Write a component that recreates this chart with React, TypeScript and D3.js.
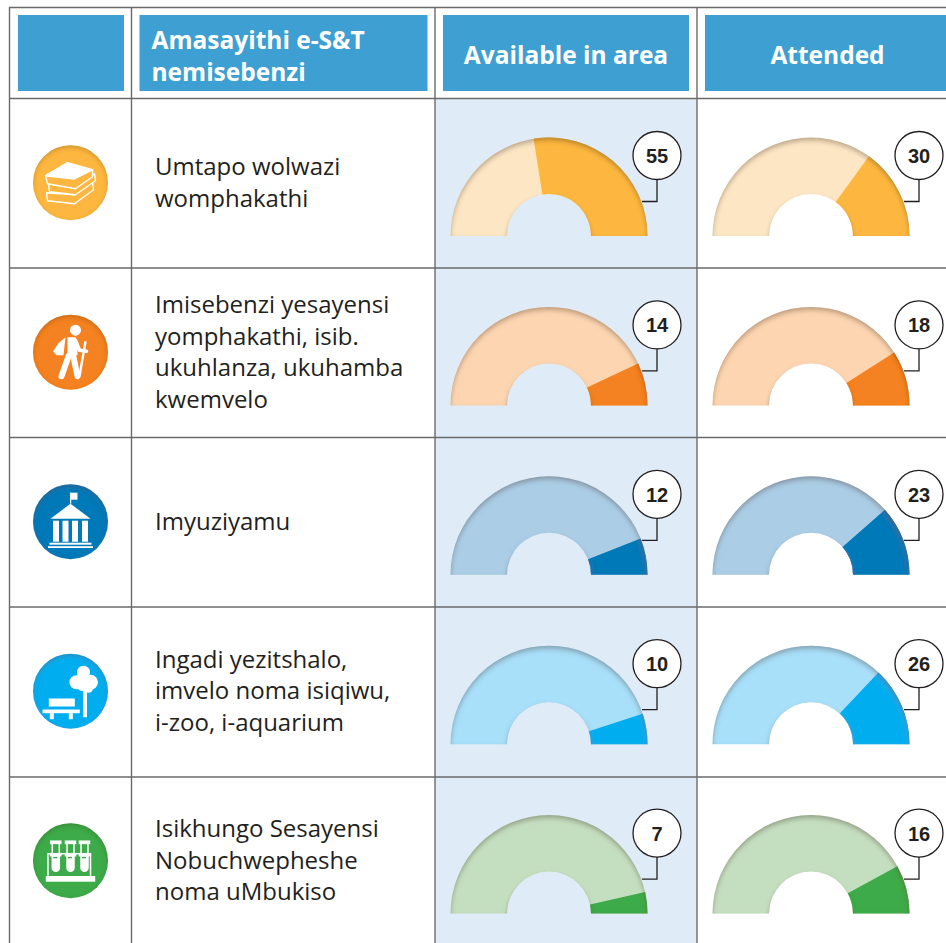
import React from "react";
import * as d3 from "d3";

const headers = ["Amasayithi e-S&T|nemisebenzi", "Available in area", "Attended"];
const categoryLines = [
  ["Umtapo wolwazi", "womphakathi"],
  ["Imisebenzi yesayensi", "yomphakathi, isib.", "ukuhlanza, ukuhamba", "kwemvelo"],
  ["Imyuziyamu"],
  ["Ingadi yezitshalo,", "imvelo noma isiqiwu,", "i-zoo, i-aquarium"],
  ["Isikhungo Sesayensi", "Nobuchwepheshe", "noma uMbukiso"],
];
const availableValues = [55, 14, 12, 10, 7];
const attendedValues = [30, 18, 23, 26, 16];
const darkColors = ["#FDB740", "#F58220", "#0079B8", "#00AEEF", "#3DAB49"];
const lightColors = ["#FDE6C4", "#FDD5B1", "#ABCDE6", "#A8DFF9", "#C4DFC0"];
const iconKinds = ["books", "hiker", "museum", "park", "tubes"];

const W = 946, H = 943;
const xLines = [9.5, 131.5, 435, 697];
const yLines = [7.5, 98.5, 268, 437.5, 607, 777];
const rowHeight = 169.4;
const firstBaseline = 236;
const gaugeCx = [549, 811];
const R = 98.5, r0 = 42;
const angle = d3.scaleLinear().domain([0, 100]).range([Math.PI / 2, -Math.PI / 2]);
const arc = d3.arc();
const FONT = "'Open Sans', 'Noto Sans', sans-serif";
const NARROW = "'Liberation Sans Narrow', 'Liberation Sans', sans-serif";

function Gauge({ cx, cy, value, dark, light }: any) {
  const aStart = -Math.PI / 2;
  const boundary = Math.PI / 2 - angle(value) + aStart;
  // d3.arc: 0 = 12 o'clock, clockwise positive
  const full = arc({ innerRadius: r0, outerRadius: R, startAngle: aStart, endAngle: Math.PI / 2 } as any)!;
  const part = arc({ innerRadius: r0, outerRadius: R, startAngle: Math.PI / 2 - (value / 100) * Math.PI, endAngle: Math.PI / 2 } as any)!;
  const bx = cx + 108, by = cy - 80.5;
  return (
    <g>
      <g filter="url(#innerShadow)" transform={`translate(${cx},${cy})`}>
        <path d={full} fill={light} />
        <path d={part} fill={dark} />
      </g>
      <path d={`M${cx + 93},${cy - 34.5}H${cx + 108}V${by}`} fill="none" stroke="#231F20" strokeWidth={1.3} />
      <circle cx={bx} cy={by} r={24} fill="#fff" stroke="#231F20" strokeWidth={1.3} />
      <text x={bx} y={by + 7.5} textAnchor="middle" fontFamily={NARROW} fontWeight={700} fontSize={20} fill="#231F20">{value}</text>
    </g>
  );
}

function Icon({ kind, cx, cy, color }: any) {
  const w = "#fff";
  let glyph: React.ReactNode = null;
  if (kind === "books") {
    glyph = (
      <g stroke={w} strokeWidth={1.4} strokeLinejoin="round" fill={color}>
        <path d="M-24,10 L-23,18 L4,21 L23,7 L22,-1 L4,12 Z" />
        <path d="M-22,1 L-21,9 L5,12 L25,-2 L24,-9 L5,4 Z" />
        <path d="M-25,-7 L-23,1 L5,6 L22,-6 L22,-13 L4,-4 Z" />
        <path d="M-3,-20 L22,-13 L4,-4 L-25,-7 Z" fill={w} />
      </g>
    );
  } else if (kind === "hiker") {
    glyph = (
      <g fill={w}>
        <circle cx={5} cy={-22} r={5.5} />
        <path d="M-5,-15 L-12,-9 L-17.5,-1 L-14,3 L-7,3 Z" />
        <path d="M-3,-15 H5 L7,-9 L7,3 L1,5 L-3,5 Z" />
        <path d="M-2,4 L-9,24 M3,5 L7,24" stroke={w} strokeWidth={6} strokeLinecap="round" fill="none" />
        <path d="M5,-12 L9,-2 L16,-1" stroke={w} strokeWidth={3.5} strokeLinecap="round" fill="none" />
        <path d="M15,-11 L9,24" stroke={w} strokeWidth={2.4} fill="none" />
      </g>
    );
  } else if (kind === "museum") {
    glyph = (
      <g fill={w}>
        <rect x={-0.5} y={-29} width={1.2} height={11} />
        <rect x={0} y={-29} width={7} height={7} />
        <path d="M0,-18 L20,-3 H-20 Z" />
        <rect x={-17.5} y={-1} width={6} height={21} />
        <rect x={-8} y={-1} width={6} height={21} />
        <rect x={1.5} y={-1} width={6} height={21} />
        <rect x={11.5} y={-1} width={6} height={21} />
        <rect x={-21} y={21} width={42} height={2} />
        <rect x={-22.5} y={24.5} width={45} height={1.8} />
      </g>
    );
  } else if (kind === "park") {
    glyph = (
      <g fill={w}>
        <circle cx={6} cy={-9} r={7} />
        <circle cx={13} cy={-19} r={6.5} />
        <circle cx={20} cy={-9} r={7.5} />
        <circle cx={13} cy={-9} r={9} />
        <circle cx={18} cy={-3} r={4.5} />
        <rect x={12.7} y={-3} width={3.8} height={29} />
        <rect x={-21.7} y={7.3} width={26} height={8} />
        <rect x={-28} y={18.3} width={37.3} height={3.7} />
        <rect x={-20.7} y={22} width={4} height={6} />
        <rect x={-1.7} y={22} width={4} height={6} />
      </g>
    );
  } else {
    const tx = [-14.7, 0, 14];
    glyph = (
      <g>
        {tx.map((x) => (
          <g key={x} stroke={w} strokeWidth={1.5} fill="none">
            <rect x={x - 5} y={-19.5} width={10} height={2.2} fill={w} />
            <path d={`M${x - 3.5},-17 V-7 M${x + 3.5},-17 V-7`} />
            <rect x={x - 5} y={-7} width={10} height={2} fill={w} />
            <path d={`M${x - 3.5},-5 V7 A3.5,3.5 0 0 0 ${x + 3.5},7 V-5 Z`} fill={w} />
            <rect x={x - 2.5} y={-3.8} width={4} height={1.4} fill={color} stroke="none" />
          </g>
        ))}
        <path d="M-22.5,15 V-7 H20 V15" fill="none" stroke={w} strokeWidth={1.5} />
        <rect x={-24.7} y={15.3} width={49.4} height={5.7} fill={w} />
      </g>
    );
  }
  return (
    <g>
      <g filter="url(#iconShadow)">
        <circle cx={cx} cy={cy} r={37.5} fill={color} />
      </g>
      <g transform={`translate(${cx},${cy})`}>{glyph}</g>
    </g>
  );
}

export default function App() {
  const cellRows = d3.range(5);
  const lineStep = 31.6;
  return (
    <svg width={W} height={H} viewBox={`0 0 ${W} ${H}`} style={{ position: "absolute", left: 0, top: 0, display: "block", background: "#fff" }}>
      <defs>
        <filter id="innerShadow" x="-10%" y="-10%" width="120%" height="120%">
          <feOffset in="SourceAlpha" dy={2.5} dx={0} result="off" />
          <feGaussianBlur in="off" stdDeviation={2.6} result="blur" />
          <feComposite in="SourceAlpha" in2="blur" operator="out" result="edge" />
          <feFlood floodColor="#5a3a10" floodOpacity={0.55} />
          <feComposite in2="edge" operator="in" result="shadow" />
          <feMerge>
            <feMergeNode in="SourceGraphic" />
            <feMergeNode in="shadow" />
          </feMerge>
        </filter>
        <filter id="iconShadow" x="-10%" y="-10%" width="120%" height="120%">
          <feOffset in="SourceAlpha" dy={1.5} result="off" />
          <feGaussianBlur in="off" stdDeviation={2.5} result="blur" />
          <feComposite in="SourceAlpha" in2="blur" operator="out" result="edge" />
          <feFlood floodColor="#3a2a10" floodOpacity={0.4} />
          <feComposite in2="edge" operator="in" result="shadow" />
          <feMerge>
            <feMergeNode in="SourceGraphic" />
            <feMergeNode in="shadow" />
          </feMerge>
        </filter>
      </defs>

      <rect x={435} y={98.5} width={262} height={H - 98.5} fill="#DFECF7" />

      <rect x={18} y={15} width={106} height={76} fill="#3D9FD2" />
      <rect x={139.5} y={15} width={288} height={76} fill="#3D9FD2" />
      <rect x={443} y={15} width={246} height={76} fill="#3D9FD2" />
      <rect x={705} y={15} width={241} height={76} fill="#3D9FD2" />

      {headers[0].split("|").map((t, i) => (
        <text key={t} x={151.5} y={49 + i * 32} fontFamily={FONT} fontWeight={700} fontSize={24.5} fill="#fff">{t}</text>
      ))}
      <text x={566} y={63.5} textAnchor="middle" fontFamily={FONT} fontWeight={700} fontSize={24.5} fill="#fff">{headers[1]}</text>
      <text x={827.5} y={63.5} textAnchor="middle" fontFamily={FONT} fontWeight={700} fontSize={24.5} fill="#fff">{headers[2]}</text>

      {yLines.map((y) => (
        <line key={y} x1={9} x2={W} y1={y} y2={y} stroke="#6A6A6A" strokeWidth={1.4} />
      ))}
      {xLines.map((x) => (
        <line key={x} x1={x} x2={x} y1={7} y2={H} stroke="#6A6A6A" strokeWidth={1.4} />
      ))}

      {cellRows.map((i) => {
        const base = firstBaseline + i * rowHeight;
        const rowMid = base - 53.5;
        const lines = categoryLines[i];
        const startY = rowMid + 8.5 - ((lines.length - 1) / 2) * lineStep;
        return (
          <g key={i}>
            <Icon kind={iconKinds[i]} cx={70.5} cy={182.7 + i * 169.5} color={darkColors[i]} />
            {lines.map((t, j) => (
              <text key={t} x={155} y={startY + j * lineStep} fontFamily={FONT} fontSize={24} fill="#231F20">{t}</text>
            ))}
            <Gauge cx={gaugeCx[0]} cy={base} value={availableValues[i]} dark={darkColors[i]} light={lightColors[i]} />
            <Gauge cx={gaugeCx[1]} cy={base} value={attendedValues[i]} dark={darkColors[i]} light={lightColors[i]} />
          </g>
        );
      })}
    </svg>
  );
}
